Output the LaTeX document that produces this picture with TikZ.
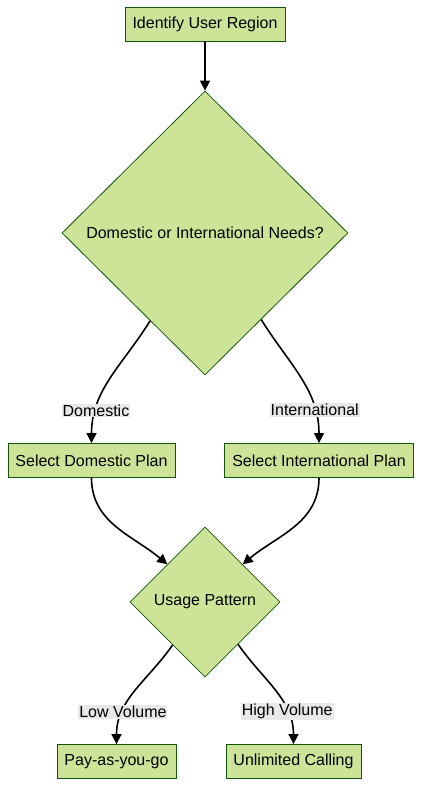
\documentclass[tikz,border=0pt]{standalone}
\usepackage{fontspec}
\setmainfont{Liberation Sans}
\usetikzlibrary{shapes.geometric,arrows.meta}
\definecolor{verdeno}{HTML}{CDE498}
\definecolor{bordano}{HTML}{13540C}
\definecolor{cinzarot}{HTML}{E8E8E8}

\begin{document}
\begin{tikzpicture}[x=1pt,y=1pt,
    caixa/.style={draw=bordano, fill=verdeno, line width=0.8pt, minimum height=34pt, inner xsep=7.5pt, font=\fontsize{16}{19}\selectfont},
    losango/.style={diamond, draw=bordano, fill=verdeno, line width=0.8pt, inner sep=0pt, font=\fontsize{16}{19}\selectfont},
    seta/.style={-{Triangle[length=10pt,width=10pt]}, line width=1.6pt},
    rotulo/.style={fill=cinzarot, inner sep=1pt, font=\fontsize{16}{19}\selectfont}]
    \useasboundingbox (0,0) rectangle (422,-787); %Margens
        %Nos
    \node[caixa] (regiao) at (205,-24) {Identify User Region}; %Inicio
    \node[losango, minimum width=286pt, minimum height=284pt] (necessidade) at (205,-233) {Domestic or International Needs?}; %Decisao 1
    \node[caixa] (domestico) at (91.5,-460.5) {Select Domestic Plan};
    \node[caixa] (internacional) at (319,-460.5) {Select International Plan};
    \node[losango, minimum width=150pt, minimum height=150pt] (uso) at (205,-602) {Usage Pattern}; %Decisao 2
    \node[caixa] (prepago) at (116.5,-761.5) {Pay-as-you-go};
    \node[caixa] (ilimitado) at (293.5,-761.5) {Unlimited Calling};
        %Setas
    \draw[seta] (regiao) -- (necessidade);
    \draw[seta] (necessidade.-122) to[out=-122, in=90] node[rotulo, pos=0.77]{Domestic} (domestico);
    \draw[seta] (necessidade.-57) to[out=-58, in=90] node[rotulo, pos=0.77]{International} (internacional);
    \draw[seta] (domestico) to[out=-90, in=140] (uso.north west);
    \draw[seta] (internacional) to[out=-90, in=40] (uso.north east);
    \draw[seta] (uso.-127) to[out=-125, in=90] node[rotulo, pos=0.72]{Low Volume} (prepago);
    \draw[seta] (uso.-52) to[out=-55, in=90] node[rotulo, pos=0.72]{High Volume} (ilimitado);
\end{tikzpicture}
\end{document}
